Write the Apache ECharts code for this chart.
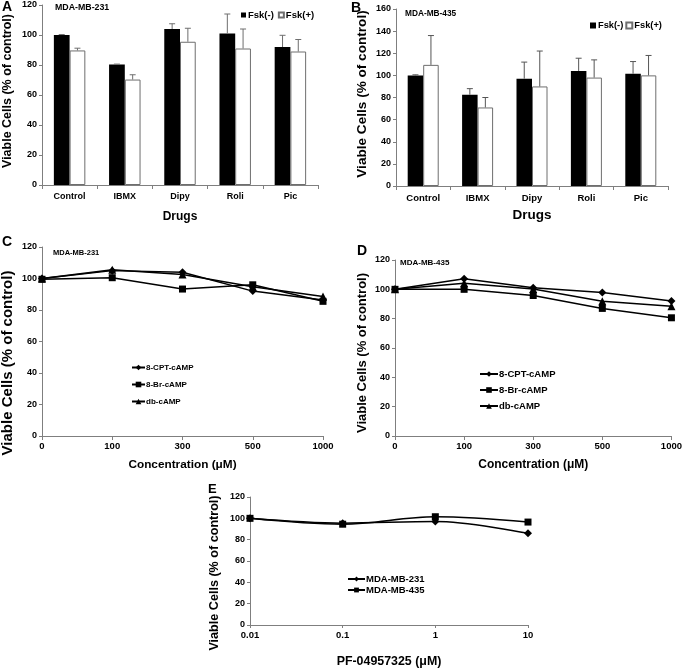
<!DOCTYPE html>
<html><head><meta charset="utf-8">
<script src="https://cdn.jsdelivr.net/npm/echarts@6/dist/echarts.min.js"></script>
<style>html,body{margin:0;padding:0;background:#fff}#c{width:685px;height:669px}</style>
</head><body><div id="c"></div>
<script>
// ---- data ----
const drugs = ['Control', 'IBMX', 'Dipy', 'Roli', 'Pic'];
const aFskMinus = [100, 80.3, 104, 101, 92];
const aFskMinusErr = [0.3, 0.3, 3.5, 13, 7.8];
const aFskPlus = [89.7, 70.3, 95.5, 91, 89];
const aFskPlusErr = [1.5, 3.2, 9, 13, 8];
const bFskMinus = [100, 82.5, 97, 104, 101.5];
const bFskMinusErr = [0.5, 5.5, 15, 11.5, 11];
const bFskPlus = [109.5, 71, 90, 98, 100];
const bFskPlusErr = [26.5, 9, 32, 16, 18];
const conc = ['0', '100', '300', '500', '1000'];
const cCPT = [100, 105, 104, 92, 86.3];
const cBr = [99.5, 100.5, 93.3, 96, 85.5];
const cDb = [100, 105.5, 102.5, 94.8, 88.5];
const dCPT = [100, 107.2, 101, 97.8, 92];
const dBr = [100, 100, 95.8, 87, 80.6];
const dDb = [100, 104.2, 100.3, 91.8, 88.5];
const pfDose = [0.01, 0.1, 1, 10];
const e231 = [100, 95.5, 97, 86];
const e435 = [100, 94.5, 101.5, 96.5];

const FF = '"Liberation Sans", Arial, sans-serif';
const AX = '#7f7f7f';
const lab = (s) => ({ color: '#000', fontFamily: FF, fontWeight: 'bold', fontSize: s });

const BAR_GAP = 0.43;

function errSeries(g, vals, errs, side, color) {
  return {
    type: 'custom', xAxisIndex: g, yAxisIndex: g, z: 5, silent: true,
    data: vals.map((v, i) => [i, v, v + errs[i]]),
    renderItem(params, api) {
      const i = api.value(0);
      const band = api.size([1, 0])[0];
      const bw = band * (1 - BAR_GAP) / 2;
      const cx = api.coord([i, 0])[0] + side * bw / 2;
      const top = api.coord([i, api.value(2)])[1];
      const base = api.coord([i, api.value(1)])[1];
      return { type: 'group', children: [
        { type: 'line', shape: { x1: cx, y1: base, x2: cx, y2: top }, style: { stroke: color, lineWidth: 1 } },
        { type: 'line', shape: { x1: cx - 3, y1: top, x2: cx + 3, y2: top }, style: { stroke: color, lineWidth: 1 } }
      ] };
    }
  };
}

function catAxis(g, data, boundary, fs, margin, name, nameGap, nameFs) {
  return {
    type: 'category', gridIndex: g, data: data, boundaryGap: boundary,
    axisLine: { lineStyle: { color: AX, width: 1 } },
    axisTick: { show: true, length: 4, lineStyle: { color: AX }, alignWithLabel: false },
    axisLabel: Object.assign(lab(fs), { margin: margin, interval: 0 }),
    name: name, nameLocation: 'middle', nameGap: nameGap, nameTextStyle: lab(nameFs),
    splitLine: { show: false }
  };
}
function valAxis(g, max, fs) {
  return {
    type: 'value', gridIndex: g, min: 0, max: max, interval: 20,
    axisLine: { show: true, lineStyle: { color: AX, width: 1 } },
    axisTick: { show: true, length: 3, lineStyle: { color: AX } },
    axisLabel: Object.assign(lab(fs), { margin: 5 }),
    splitLine: { show: false }
  };
}
function barSeries(g, name, vals, black) {
  return {
    type: 'bar', name: name, xAxisIndex: g, yAxisIndex: g, data: vals,
    barGap: '0%', barCategoryGap: (BAR_GAP * 100) + '%',
    itemStyle: black ? { color: '#000', borderColor: '#000', borderWidth: 0 }
                     : { color: '#fff', borderColor: '#6e6e6e', borderWidth: 1 }
  };
}
function lineSeries(g, name, vals, sym, smooth) {
  return {
    type: 'line', name: name, xAxisIndex: g, yAxisIndex: g, data: vals,
    symbol: sym, symbolSize: sym === 'triangle' ? 8 : (sym === 'rect' ? 7 : 8),
    smooth: smooth || false,
    lineStyle: { color: '#000', width: 1.5 }, itemStyle: { color: '#000' }
  };
}
function yTitle(x, y, fs) {
  return { type: 'text', x: x, y: y, rotation: Math.PI / 2, silent: true,
    style: { text: 'Viable Cells (% of control)', fill: '#000',
      font: 'bold ' + fs + 'px ' + FF, textAlign: 'center', textVerticalAlign: 'middle',
      align: 'center', verticalAlign: 'middle' } };
}
function txt(x, y, s, fs) {
  return { type: 'text', x: x, y: y, silent: true,
    style: { text: s, fill: '#000', font: 'bold ' + fs + 'px ' + FF,
      textAlign: 'left', textVerticalAlign: 'middle', align: 'left', verticalAlign: 'middle' } };
}
function legendText(fs, lh) {
  return Object.assign(lab(fs), { padding: [0, 0, 0, -4], lineHeight: lh });
}

const option = {
  animation: false,
  backgroundColor: '#fff',
  grid: [
    { left: 42, top: 5, width: 276, height: 180 },
    { left: 396, top: 9, width: 272, height: 177 },
    { left: 42, top: 247, width: 281, height: 189 },
    { left: 395, top: 260, width: 280, height: 176 },
    { left: 250, top: 497, width: 278, height: 136 }
  ],
  xAxis: [
    catAxis(0, drugs, true, 9, 7, 'Drugs', 26, 12),
    catAxis(1, drugs, true, 9.5, 7, 'Drugs', 22, 13.5),
    catAxis(2, conc, false, 9.5, 5, 'Concentration (μM)', 23, 11.8),
    catAxis(3, conc, false, 9.5, 5, 'Concentration (μM)', 23, 12),
    {
      type: 'log', logBase: 10, gridIndex: 4, min: 0.01, max: 10,
      axisLine: { lineStyle: { color: AX, width: 1 } },
      axisTick: { show: true, length: 3, lineStyle: { color: AX } },
      minorTick: { show: false },
      axisLabel: Object.assign(lab(9.5), { margin: 5, formatter: (v) => String(v) }),
      name: 'PF-04957325 (μM)', nameLocation: 'middle', nameGap: 31, nameTextStyle: lab(12.4),
      splitLine: { show: false }
    }
  ],
  yAxis: [valAxis(0, 120, 9), valAxis(1, 160, 9), valAxis(2, 120, 9), valAxis(3, 120, 9), valAxis(4, 120, 9)],
  legend: [
    { data: ['Fsk(-)', 'Fsk(+)'], left: 236, top: 5, icon: 'rect', itemWidth: 5, itemHeight: 5, itemGap: 4,
      textStyle: Object.assign(lab(9.5), { padding: [0, 0, 0, -3] }) },
    { data: ['Fsk(-)', 'Fsk(+)'], left: 585, top: 16, icon: 'rect', itemWidth: 6, itemHeight: 6, itemGap: 2,
      textStyle: Object.assign(lab(9.3), { padding: [0, 0, 0, -3] }) },
    { data: ['8-CPT-cAMP', '8-Br-cAMP', 'db-cAMP'], left: 126, top: 358, orient: 'vertical',
      itemWidth: 13, itemHeight: 7, itemGap: 8, textStyle: legendText(8, 9) },
    { data: ['8-CPT-cAMP', '8-Br-cAMP', 'db-cAMP'], left: 474, top: 364, orient: 'vertical',
      itemWidth: 18, itemHeight: 7, itemGap: 6, textStyle: legendText(9.5, 10) },
    { data: ['MDA-MB-231', 'MDA-MB-435'], left: 342, top: 569, orient: 'vertical',
      itemWidth: 17, itemHeight: 6, itemGap: 1, textStyle: legendText(9.5, 10) }
  ],
  graphic: [
    txt(2, 7, 'A', 14), txt(351, 8, 'B', 14), txt(2, 242, 'C', 14), txt(357, 251, 'D', 14), txt(208, 489, 'E', 13),
    txt(55, 8, 'MDA-MB-231', 8.8), txt(405, 14, 'MDA-MB-435', 8.3), txt(53, 253, 'MDA-MB-231', 7.5), txt(400, 263, 'MDA-MB-435', 8),
    yTitle(8, 91, 12.5), yTitle(362, 94, 13.6), yTitle(8, 363, 15), yTitle(362, 353, 13), yTitle(215, 573, 12.6)
  ],
  series: [
    barSeries(0, 'Fsk(-)', aFskMinus, true),
    barSeries(0, 'Fsk(+)', aFskPlus, false),
    errSeries(0, aFskMinus, aFskMinusErr, -1, '#6e6e6e'),
    errSeries(0, aFskPlus, aFskPlusErr, 1, '#6e6e6e'),
    barSeries(1, 'Fsk(-)', bFskMinus, true),
    barSeries(1, 'Fsk(+)', bFskPlus, false),
    errSeries(1, bFskMinus, bFskMinusErr, -1, '#555'),
    errSeries(1, bFskPlus, bFskPlusErr, 1, '#555'),
    lineSeries(2, '8-CPT-cAMP', cCPT, 'diamond'),
    lineSeries(2, '8-Br-cAMP', cBr, 'rect'),
    lineSeries(2, 'db-cAMP', cDb, 'triangle'),
    lineSeries(3, '8-CPT-cAMP', dCPT, 'diamond'),
    lineSeries(3, '8-Br-cAMP', dBr, 'rect'),
    lineSeries(3, 'db-cAMP', dDb, 'triangle'),
    lineSeries(4, 'MDA-MB-231', pfDose.map((d, i) => [d, e231[i]]), 'diamond', 0.35),
    lineSeries(4, 'MDA-MB-435', pfDose.map((d, i) => [d, e435[i]]), 'rect', 0.35)
  ]
};
const chart = echarts.init(document.getElementById('c'), null, { renderer: 'canvas' });
chart.setOption(option);
</script>
</body></html>
